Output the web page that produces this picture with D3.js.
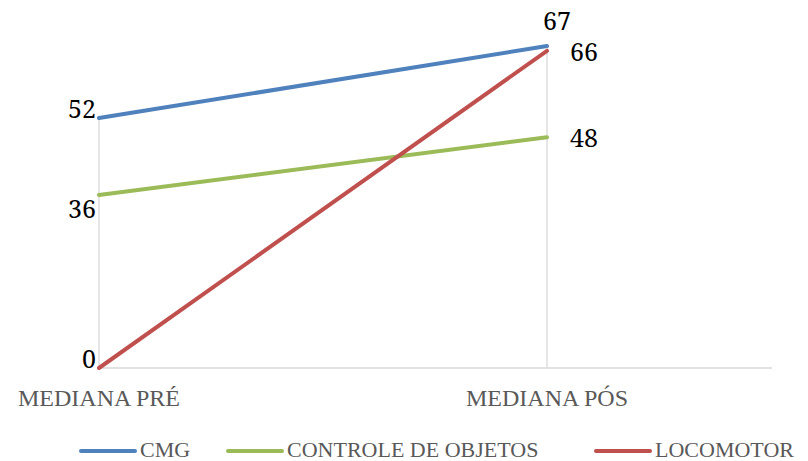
<!DOCTYPE html>
<html>
<head>
<meta charset="utf-8">
<script src="https://cdn.jsdelivr.net/npm/d3@7"></script>
<style>
  html, body { margin: 0; padding: 0; background: #fff; }
  svg { display: block; }
  text { font-family: 'Liberation Serif', 'Times New Roman', serif; }
  text.value { font-family: 'Noto Serif', 'Liberation Serif', serif; }
</style>
</head>
<body>
<svg id="chart" width="808" height="461"></svg>
<script>
// Categories and series
const categories = ["MEDIANA PRÉ", "MEDIANA PÓS"];
const seriesNames = ["CMG", "CONTROLE DE OBJETOS", "LOCOMOTOR"];
const cmgValues = [52, 67];
const controleValues = [36, 48];
const locomotorValues = [0, 66];
const seriesColors = ["#4F81BD", "#9BBB59", "#C0504D"];

// Label placement per series/point
const labelPlacement = [
  ["left-up", "above"],
  ["left-down", "right"],
  ["left-up", "right"]
];

const series = seriesNames.map((name, i) => ({
  name,
  color: seriesColors[i],
  values: [cmgValues, controleValues, locomotorValues][i]
}));

const svg = d3.select("#chart");
const plotLeft = 99, plotRight = 772, plotTop = 46, plotBottom = 368;

const x = d3.scalePoint().domain(categories).range([plotLeft, 547]);
const y = d3.scaleLinear().domain([0, 67]).range([plotBottom, plotTop]);

// drop lines from the highest point of each category down to the axis
const maxAt = categories.map((c, ci) => d3.max(series, s => s.values[ci]));
svg.append("g").selectAll("line").data(categories).join("line")
  .attr("x1", d => x(d)).attr("x2", d => x(d))
  .attr("y1", plotBottom).attr("y2", (d, i) => y(maxAt[i]))
  .attr("stroke", "#d9d9d9").attr("stroke-width", 1.3);

// horizontal axis line
svg.append("line")
  .attr("x1", plotLeft).attr("x2", plotRight)
  .attr("y1", plotBottom).attr("y2", plotBottom)
  .attr("stroke", "#d9d9d9").attr("stroke-width", 1.5);

// category labels
svg.append("g").selectAll("text").data(categories).join("text")
  .attr("x", d => x(d)).attr("y", 406)
  .attr("text-anchor", "middle")
  .attr("font-size", 24).attr("fill", "#595959")
  .text(d => d);

// series lines
const line = d3.line().x((d, i) => x(categories[i])).y(d => y(d));
svg.append("g").selectAll("path").data(series).join("path")
  .attr("d", d => line(d.values))
  .attr("fill", "none")
  .attr("stroke", d => d.color)
  .attr("stroke-width", 4)
  .attr("stroke-linecap", "round");

// data labels
const labels = [];
series.forEach((s, si) => s.values.forEach((v, ci) => labels.push({ v, ci, pos: labelPlacement[si][ci] })));
svg.append("g").selectAll("text").data(labels).join("text")
  .attr("class", "value")
  .attr("font-size", 25).attr("fill", "#000")
  .attr("x", d => {
    const px = x(categories[d.ci]);
    if (d.pos.startsWith("left")) return px - 3;
    if (d.pos === "right") return px + 23;
    return px + 10;
  })
  .attr("y", d => {
    const py = y(d.v);
    if (d.pos === "left-up") return py;
    if (d.pos === "left-down") return py + 23;
    if (d.pos === "above") return py - 16;
    return py + 10;
  })
  .attr("text-anchor", d => d.pos.startsWith("left") ? "end" : (d.pos === "above" ? "middle" : "start"))
  .text(d => d.v);

// legend
const legendX = [81, 228, 596];
const legend = svg.append("g").selectAll("g").data(series).join("g")
  .attr("transform", (d, i) => `translate(${legendX[i]},451)`);
legend.append("line")
  .attr("x1", 0).attr("x2", 54).attr("y1", 0).attr("y2", 0)
  .attr("stroke", d => d.color).attr("stroke-width", 4).attr("stroke-linecap", "round");
legend.append("text")
  .attr("x", 59).attr("y", 6)
  .attr("font-size", 22).attr("fill", "#595959")
  .text(d => d.name);
</script>
</body>
</html>
